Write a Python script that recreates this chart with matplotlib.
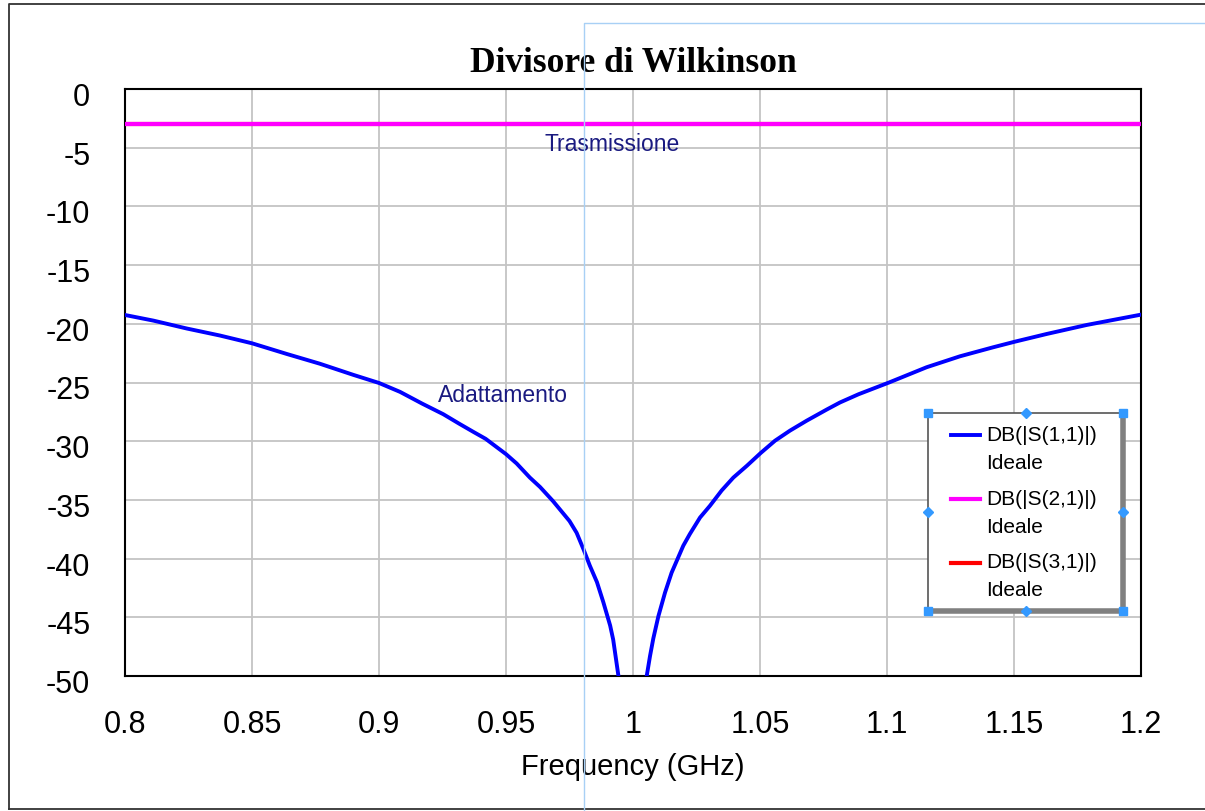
import matplotlib
matplotlib.use("Agg")
import matplotlib.pyplot as plt
from matplotlib.lines import Line2D
from matplotlib.patches import Rectangle
from matplotlib.legend_handler import HandlerLine2D
from matplotlib.transforms import ScaledTranslation, Bbox

# S-parameters of an ideal Wilkinson divider, in dB versus frequency (GHz)
freq_s11 = [0.8000, 0.8112, 0.8243, 0.8374, 0.8500, 0.8637, 0.8767, 0.8899,
            0.9000, 0.9083, 0.9170, 0.9253, 0.9315, 0.9371, 0.9420, 0.9463,
            0.9500, 0.9542, 0.9594, 0.9634, 0.9685, 0.9750, 0.9778, 0.9805,
            0.9830, 0.9858, 0.9883, 0.9910, 0.9922, 0.9942, 0.9955,
            1.0040, 1.0054, 1.0067, 1.0080, 1.0100, 1.0126, 1.0152, 1.0178,
            1.0198, 1.0224, 1.0264, 1.0303, 1.0349, 1.0395, 1.0448, 1.0503,
            1.0559, 1.0618, 1.0684, 1.0763, 1.0815, 1.0888, 1.1008, 1.1156,
            1.1287, 1.1418, 1.1504, 1.1628, 1.1786, 1.2000]
s11_db = [-19.25, -19.73, -20.40, -21.00, -21.66, -22.57, -23.40, -24.35,
          -25.04, -25.80, -26.80, -27.70, -28.50, -29.20, -29.80, -30.50,
          -31.10, -31.90, -33.10, -33.90, -35.10, -36.80, -37.80, -39.20,
          -40.60, -42.00, -43.70, -45.70, -46.90, -49.90, -52.00,
          -52.00, -50.00, -48.30, -46.80, -44.90, -42.90, -41.20, -39.90,
          -38.90, -37.90, -36.50, -35.50, -34.20, -33.10, -32.10, -31.00,
          -29.96, -29.10, -28.25, -27.30, -26.70, -26.00, -25.00, -23.70,
          -22.77, -22.00, -21.52, -20.87, -20.10, -19.22]

freq_flat = [0.8, 1.2]
s21_db = [-3.0, -3.0]
s31_db = [-3.0, -3.0]

series_labels = ["DB(|S(1,1)|)\nIdeale", "DB(|S(2,1)|)\nIdeale", "DB(|S(3,1)|)\nIdeale"]
x_ticks = [0.8, 0.85, 0.9, 0.95, 1.0, 1.05, 1.1, 1.15, 1.2]
x_tick_labels = ["0.8", "0.85", "0.9", "0.95", "1", "1.05", "1.1", "1.15", "1.2"]
y_ticks = [0, -5, -10, -15, -20, -25, -30, -35, -40, -45, -50]

W, H = 1205, 812
fig = plt.figure(figsize=(W / 100, H / 100), dpi=100)
fig.patch.set_facecolor("white")
plt.rcParams["font.family"] = ["Liberation Sans", "DejaVu Sans"]


def fx(px):
    return px / W


def fy(py):
    return 1 - py / H


ax = fig.add_axes([fx(125), fy(677), (1141 - 125) / W, (677 - 90) / H])
ax.set_xlim(0.8, 1.2)
ax.set_ylim(-50, 0)
ax.set_xticks(x_ticks)
ax.set_xticklabels(x_tick_labels)
ax.set_yticks(y_ticks)
ax.set_yticklabels([str(v) for v in y_ticks])
ax.tick_params(length=0, labelsize=22)
ax.tick_params(axis="y", pad=25)
ax.tick_params(axis="x", pad=24)
shift_down = ScaledTranslation(0, -4.5 / 100, fig.dpi_scale_trans)
for lab in ax.get_yticklabels():
    lab.set_transform(lab.get_transform() + shift_down)
ax.grid(True, color="#c4c4c4", linewidth=1.3)
ax.set_axisbelow(True)
for sp in ax.spines.values():
    sp.set_color("black")
    sp.set_linewidth(1.5)

l31, = ax.plot(freq_flat, s31_db, color="#ff0000", linewidth=3, zorder=3)
l21, = ax.plot(freq_flat, s21_db, color="#ff00ff", linewidth=3, zorder=4)
l11, = ax.plot(freq_s11, s11_db, color="#0000ff", linewidth=2.8, zorder=5)

ax.set_xlabel("Frequency (GHz)", fontsize=21, labelpad=9)
fig.text(fx(633.5), fy(72), "Divisore di Wilkinson", ha="center", va="baseline",
         fontsize=25.5, fontweight="bold", family=["Liberation Serif", "DejaVu Serif"])

ax.text(0.9917, -4.6, "Trasmissione", color="#1a1a80", fontsize=16.5,
        ha="center", va="center")
ax.text(0.9488, -26.0, "Adattamento", color="#1a1a80", fontsize=16.5,
        ha="center", va="center")


class FirstLineHandler(HandlerLine2D):
    """Legend line drawn level with the first text line of a two-line label."""

    def create_artists(self, legend, orig_handle, xdescent, ydescent,
                       width, height, fontsize, trans):
        arts = super().create_artists(legend, orig_handle, xdescent, ydescent,
                                      width, height, fontsize, trans)
        for a in arts:
            a.set_ydata([v + 9.7 for v in a.get_ydata()])
        return arts


leg = ax.legend([l11, l21, l31], series_labels, loc="upper left",
                bbox_to_anchor=(fx(951), fy(426)), bbox_transform=fig.transFigure,
                fontsize=15, frameon=False, borderpad=0, labelspacing=0.8,
                handlelength=1.4, handletextpad=0.3, borderaxespad=0,
                handler_map={Line2D: FirstLineHandler()})
for t in leg.get_texts():
    t.set_linespacing(1.6)
leg.set_zorder(20)

# legend box: thin frame, grey shadow on right/bottom, selection handles
fig.canvas.draw()
ext = leg.get_window_extent()
bx0, bx1 = ext.x0 - 23, ext.x1 + 26
by0, by1 = ext.y0 - 12, ext.y1 + 12
bb = Bbox([[bx0, by0], [bx1, by1]]).transformed(fig.transFigure.inverted())
x0, y0, x1, y1 = bb.x0, bb.y0, bb.x1, bb.y1
fig.add_artist(Rectangle((x0, y0), x1 - x0, y1 - y0, transform=fig.transFigure,
                         facecolor="white", edgecolor="#555555", linewidth=1.2, zorder=9))
fig.add_artist(Line2D([x1, x1], [y0, y1], transform=fig.transFigure,
                      color="#808080", linewidth=4, zorder=10))
fig.add_artist(Line2D([x0, x1], [y0, y0], transform=fig.transFigure,
                      color="#808080", linewidth=4, zorder=10))
xm, ym = (x0 + x1) / 2, (y0 + y1) / 2
for px, py in [(x0, y0), (x0, y1), (x1, y0), (x1, y1)]:
    fig.add_artist(Line2D([px], [py], transform=fig.transFigure, marker="s",
                          markersize=5.5, color="#3399ff", linestyle="none", zorder=11))
for px, py in [(xm, y0), (xm, y1), (x0, ym), (x1, ym)]:
    fig.add_artist(Line2D([px], [py], transform=fig.transFigure, marker="D",
                          markersize=5, color="#3399ff", linestyle="none", zorder=11))
leg.remove()
fig.add_artist(leg)

# outer frame and the light-blue guide lines
fig.add_artist(Line2D([fx(9), fx(9), 1.0], [fy(810), fy(5), fy(5)],
                      transform=fig.transFigure, color="#333333", linewidth=1.3))
fig.add_artist(Line2D([fx(9), 1.0], [fy(810), fy(810)],
                      transform=fig.transFigure, color="#333333", linewidth=1.3))
fig.add_artist(Line2D([fx(584), fx(584), 1.0], [0.0, fy(24), fy(24)],
                      transform=fig.transFigure, color="#a8d0f5", linewidth=1.0, zorder=12))

fig.savefig("out.png", dpi=100)
